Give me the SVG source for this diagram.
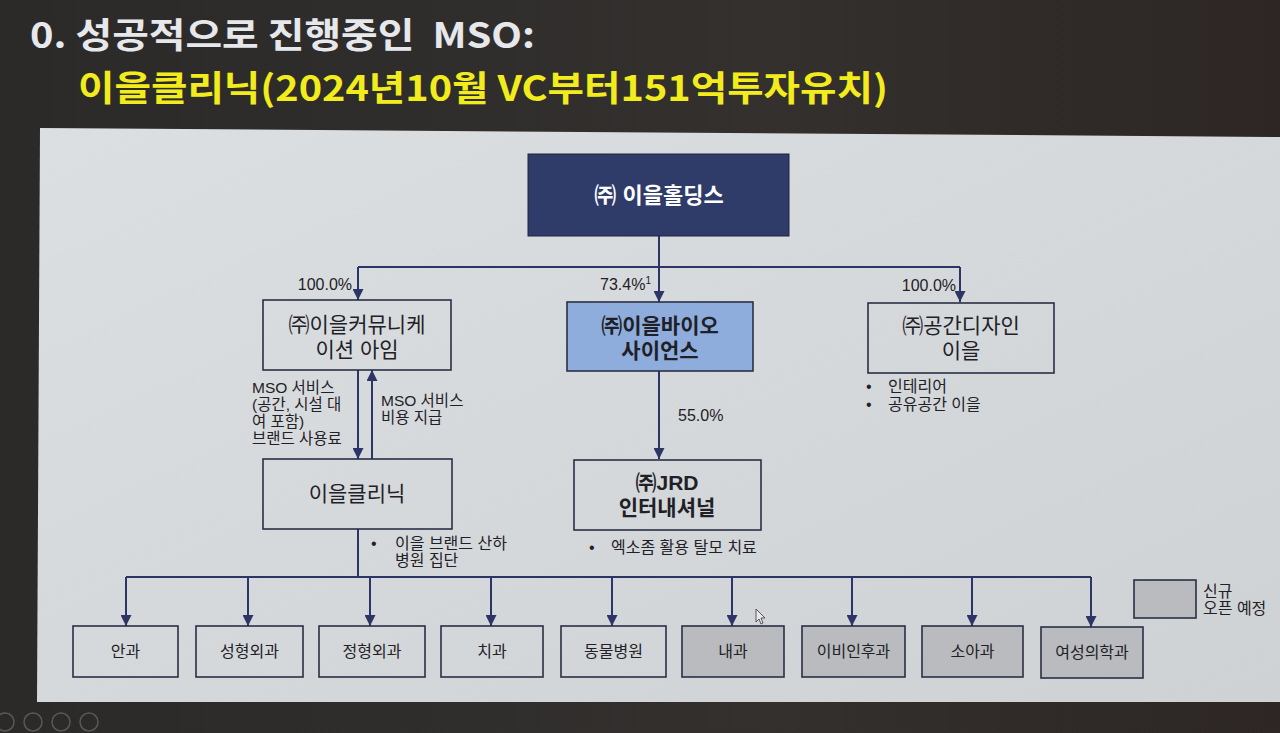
<svg xmlns="http://www.w3.org/2000/svg" width="1280" height="733" viewBox="0 0 1280 733">
<defs>
<linearGradient id="bg" x1="0" y1="0" x2="1" y2="0">
<stop offset="0" stop-color="#2b2a28"/>
<stop offset="0.6" stop-color="#33302e"/>
<stop offset="1" stop-color="#2d2624"/>
</linearGradient>
<linearGradient id="slide" x1="0" y1="0" x2="1" y2="1">
<stop offset="0" stop-color="#dcdfe2"/>
<stop offset="1" stop-color="#cfd2d5"/>
</linearGradient>
<marker id="ah" viewBox="0 0 10 10" refX="10" refY="5" markerWidth="11" markerHeight="11" markerUnits="userSpaceOnUse" orient="auto">
<path d="M0,0 L10,5 L0,10 Z" fill="#2c3566"/>
</marker>
<style>
.box{fill:none;stroke:#2a2f45;stroke-width:1.6}
.gbox{fill:#b9bbbe;stroke:#2a2f45;stroke-width:1.6}
.ln{fill:none;stroke:#2c3566;stroke-width:2}
.t{font-family:"Liberation Sans","Noto Sans CJK KR",sans-serif;fill:#1f2126}
.nm{font-size:21px;text-anchor:middle}
.bd{font-weight:bold}
.sm{font-size:16px}
.dp{font-size:16px;text-anchor:middle}
.lb{font-size:15.5px}
.title{font-family:"Noto Sans CJK KR",sans-serif;font-weight:bold;font-size:35px;white-space:pre}
</style>
</defs>
<rect x="0" y="0" width="1280" height="733" fill="url(#bg)"/>
<text class="title" x="30" y="48" fill="#e6e8ec" textLength="505" lengthAdjust="spacingAndGlyphs">0. 성공적으로 진행중인  MSO:</text>
<text class="title" x="78" y="101" fill="#f2ec1c" textLength="810" lengthAdjust="spacingAndGlyphs">이을클리닉(2024년10월 VC부터151억투자유치)</text>
<polygon points="40,128 1280,137 1280,702 37,702" fill="url(#slide)"/>
<g id="ui" fill="none" stroke="#5a5856" stroke-width="1.5">
<circle cx="5" cy="722" r="9"/>
<circle cx="33" cy="722" r="9"/>
<circle cx="61" cy="722" r="9"/>
<circle cx="89" cy="722" r="9"/>
</g>
<g id="connectors">
<path class="ln" d="M659,236 V267"/>
<path class="ln" d="M358,267 H960"/>
<path class="ln" d="M358,267 V300" marker-end="url(#ah)"/>
<path class="ln" d="M659,267 V302" marker-end="url(#ah)"/>
<path class="ln" d="M960,267 V302" marker-end="url(#ah)"/>
<path class="ln" d="M358,370 V459" marker-end="url(#ah)"/>
<path class="ln" d="M372,459 V370" marker-end="url(#ah)"/>
<path class="ln" d="M659,371 V459" marker-end="url(#ah)"/>
<path class="ln" d="M358,529 V577"/>
<path class="ln" d="M126,577 H1091"/>
<path class="ln" d="M126,577 V626" marker-end="url(#ah)"/>
<path class="ln" d="M248,577 V626" marker-end="url(#ah)"/>
<path class="ln" d="M370,577 V626" marker-end="url(#ah)"/>
<path class="ln" d="M491,577 V626" marker-end="url(#ah)"/>
<path class="ln" d="M612,577 V626" marker-end="url(#ah)"/>
<path class="ln" d="M732,577 V626" marker-end="url(#ah)"/>
<path class="ln" d="M852,577 V626" marker-end="url(#ah)"/>
<path class="ln" d="M972,577 V626" marker-end="url(#ah)"/>
<path class="ln" d="M1091,577 V627" marker-end="url(#ah)"/>
<text class="t sm" x="352" y="290" text-anchor="end">100.0%</text>
<text class="t sm" x="651" y="290" text-anchor="end">73.4%<tspan font-size="10" dy="-6">1</tspan></text>
<text class="t sm" x="956" y="291" text-anchor="end">100.0%</text>
<text class="t sm" x="678" y="421">55.0%</text>
<text class="t lb" x="252" y="393">MSO 서비스</text>
<text class="t lb" x="252" y="410">(공간, 시설 대</text>
<text class="t lb" x="252" y="427">여 포함)</text>
<text class="t lb" x="252" y="444">브랜드 사용료</text>
<text class="t lb" x="381" y="406">MSO 서비스</text>
<text class="t lb" x="381" y="423">비용 지급</text>
</g>
<g id="holdings">
<rect x="528" y="154" width="261" height="82" fill="#2f3b69" stroke="#1e2440" stroke-width="1"/>
<text class="t nm bd" x="659" y="203" style="fill:#ffffff;font-size:22px">㈜ 이을홀딩스</text>
</g>
<g id="communication">
<rect class="box" x="263" y="300" width="188" height="70"/>
<text class="t nm" x="357" y="332">㈜이을커뮤니케</text>
<text class="t nm" x="357" y="357">이션 아임</text>
</g>
<g id="bioscience">
<rect x="567" y="302" width="186" height="69" fill="#8eaddd" stroke="#2a2f45" stroke-width="1.6"/>
<text class="t nm bd" x="660" y="333">㈜이을바이오</text>
<text class="t nm bd" x="660" y="358">사이언스</text>
</g>
<g id="spacedesign">
<rect class="box" x="868" y="303" width="186" height="70"/>
<text class="t nm" x="961" y="333">㈜공간디자인</text>
<text class="t nm" x="961" y="358">이을</text>
<text class="t sm" x="866" y="392">•</text>
<text class="t sm" x="888" y="392">인테리어</text>
<text class="t sm" x="866" y="410">•</text>
<text class="t sm" x="888" y="410">공유공간 이을</text>
</g>
<g id="clinic">
<rect class="box" x="263" y="459" width="189" height="70"/>
<text class="t nm" x="357" y="501">이을클리닉</text>
<text class="t sm" x="371" y="549">•</text>
<text class="t sm" x="395" y="549">이을 브랜드 산하</text>
<text class="t sm" x="395" y="566">병원 집단</text>
</g>
<g id="jrd">
<rect class="box" x="574" y="460" width="187" height="70"/>
<text class="t nm bd" x="667" y="490">㈜JRD</text>
<text class="t nm bd" x="667" y="515">인터내셔널</text>
<text class="t sm" x="589" y="553">•</text>
<text class="t sm" x="611" y="553">엑소좀 활용 탈모 치료</text>
</g>
<g id="dept-eye"><rect class="box" x="73" y="626" width="105" height="51"/><text class="t dp" x="125.5" y="657">안과</text></g>
<g id="dept-plastic"><rect class="box" x="196" y="626" width="107" height="51"/><text class="t dp" x="249.5" y="657">성형외과</text></g>
<g id="dept-ortho"><rect class="box" x="319" y="626" width="106" height="51"/><text class="t dp" x="372" y="657">정형외과</text></g>
<g id="dept-dental"><rect class="box" x="441" y="626" width="102" height="51"/><text class="t dp" x="492" y="657">치과</text></g>
<g id="dept-vet"><rect class="box" x="561" y="626" width="105" height="51"/><text class="t dp" x="613.5" y="657">동물병원</text></g>
<g id="dept-internal"><rect class="gbox" x="682" y="626" width="102" height="51"/><text class="t dp" x="733" y="657">내과</text></g>
<g id="dept-ent"><rect class="gbox" x="802" y="626" width="103" height="51"/><text class="t dp" x="853.5" y="657">이비인후과</text></g>
<g id="dept-peds"><rect class="gbox" x="922" y="626" width="101" height="51"/><text class="t dp" x="972.5" y="657">소아과</text></g>
<g id="dept-women"><rect class="gbox" x="1041" y="627" width="102" height="51"/><text class="t dp" x="1092" y="658">여성의학과</text></g>
<g id="legend">
<rect class="gbox" x="1134" y="580" width="62" height="38"/>
<text class="t sm" x="1203" y="597">신규</text>
<text class="t sm" x="1203" y="614">오픈 예정</text>
</g>
<path d="M756,609 L756,622 L759,619 L761,624 L763,623 L761,618 L765,618 Z" fill="#e8e8e8" stroke="#333" stroke-width="0.8"/>
</svg>
